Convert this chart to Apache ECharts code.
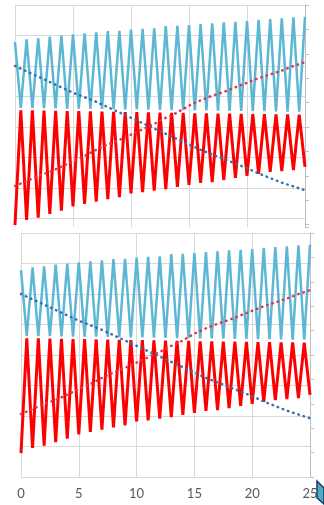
<!DOCTYPE html>
<html>
<head>
<meta charset="utf-8">
<script src="https://cdn.jsdelivr.net/npm/echarts@6/dist/echarts.min.js"></script>
<style>
  html, body { margin: 0; padding: 0; background: #fff; }
  #chart { width: 324px; height: 505px; }
</style>
</head>
<body>
<div id="chart"></div>
<script>
// values at x = 0, 1, ..., 25 (whole steps) and x = 0.5, 1.5, ..., 24.5 (half steps)
const xTicks = [0, 5, 10, 15, 20, 25];
const blueHigh = [135.7, 137.5, 138.2, 139.2, 139.9, 140.8, 141.4, 142.1, 142.9, 143.1, 143.8, 144.3, 144.7,
  146.2, 146.4, 146.9, 147.5, 148.0, 148.6, 149.0, 149.5, 150.2, 150.8, 151.3, 151.9, 152.3];
const blueLow = [92.5, 92.4, 92.4, 92.2, 92.1, 92.0, 92.0, 91.8, 91.7, 91.6, 91.5, 91.3, 91.2,
  91.1, 91.0, 90.9, 90.8, 90.7, 90.6, 90.5, 90.4, 90.3, 90.2, 90.1, 90.0];
const redHigh = [91.0, 90.9, 90.8, 90.6, 90.5, 90.4, 90.2, 90.1, 90.0, 89.8, 89.7, 89.6, 89.4,
  89.3, 89.2, 89.0, 88.9, 88.8, 88.7, 88.6, 88.5, 88.4, 88.3, 88.2, 88.1];
const redLow = [15.7, 19.0, 20.5, 22.9, 25.1, 27.9, 29.5, 31.0, 32.6, 33.9, 36.5, 37.2, 38.2,
  39.3, 40.7, 42.0, 43.3, 43.9, 45.2, 46.6, 47.9, 49.2, 50.5, 51.1, 51.8, 53.8];
const blueTrend = [120, 116.5, 113, 109.5, 106, 102.5, 99.5, 96.5, 93, 89.5, 86, 82.5, 79,
  75.5, 72, 68.5, 65, 62, 59, 56, 53, 49.5, 46.5, 43.5, 41, 38.5];
const redTrend = [41.3, 44.5, 48, 50.5, 54, 57.5, 61, 65, 68.5, 71.5, 75, 78.5, 82,
  86, 89.5, 94, 97.5, 100.5, 103, 106, 109, 112, 114.5, 117, 120, 122.5];

const BLUE = '#5bb7d3';
const RED = '#ff0000';
const BLUE_DOT = '#2f6fad';
const RED_DOT = '#e0354a';
const GRID = '#d9d9d9';

// join the whole-step and half-step values into one zigzag
function zigzag(whole, half) {
  const out = [];
  for (let i = 0; i < whole.length; i++) {
    out.push([i, whole[i]]);
    if (i < half.length) out.push([i + 0.5, half[i]]);
  }
  return out;
}
const trend = (arr) => arr.map((v, i) => [i, v]);

const zigBlue = zigzag(blueHigh, blueLow);
const zigRed = zigzag(redLow, redHigh);

const xAxisBase = {
  type: 'value',
  min: xTicks[0],
  max: xTicks[xTicks.length - 1],
  interval: xTicks[1] - xTicks[0],
  axisLine: { show: false },
  axisTick: { show: false },
  splitLine: { show: true, lineStyle: { color: GRID, width: 1 } },
};

const hidden = { axisLabel: { show: false }, axisLine: { show: false }, axisTick: { show: false } };

const rightAxis = (gridIndex, extra) => Object.assign({
  type: 'value',
  gridIndex,
  position: 'right',
  interval: 16,
  axisLabel: { show: false },
  axisLine: { show: true, lineStyle: { color: '#bfbfbf', width: 1 } },
  axisTick: { show: true, inside: false, length: 4, lineStyle: { color: '#bfbfbf' } },
  splitLine: { show: false },
}, extra);

function seriesFor(i, xi, yi) {
  return [
    { name: 'blue' + i, type: 'line', xAxisIndex: xi, yAxisIndex: yi, data: zigBlue, showSymbol: false,
      lineStyle: { color: BLUE, width: 2.5 }, animation: false, z: 2 },
    { name: 'red' + i, type: 'line', xAxisIndex: xi, yAxisIndex: yi, data: zigRed, showSymbol: false,
      lineStyle: { color: RED, width: 3 }, animation: false, z: 3 },
    { name: 'blueTrend' + i, type: 'line', xAxisIndex: xi, yAxisIndex: yi, data: trend(blueTrend), showSymbol: false,
      lineStyle: { color: BLUE_DOT, width: 2.5, type: [0.5, 5], cap: 'round' }, animation: false, z: 4 },
    { name: 'redTrend' + i, type: 'line', xAxisIndex: xi, yAxisIndex: yi, data: trend(redTrend), showSymbol: false,
      lineStyle: { color: RED_DOT, width: 2.5, type: [0.5, 5], cap: 'round' }, animation: false, z: 4 },
  ];
}

const chart = echarts.init(document.getElementById('chart'), null, { renderer: 'canvas' });
chart.setOption({
  backgroundColor: '#fff',
  animation: false,
  grid: [
    // upper copy, cut off near its bottom
    { left: 15, right: 19, top: 5, height: 222 },
    { left: 21, right: 14, top: 233, height: 244 },
  ],
  xAxis: [
    Object.assign({ gridIndex: 0, axisLabel: { show: false } }, xAxisBase),
    Object.assign({ gridIndex: 1 }, xAxisBase, {
      axisLabel: { show: true, color: '#595959', fontSize: 13, fontFamily: 'Lato', margin: 10 },
    }),
  ],
  yAxis: [
    // 0: data axis for the upper copy
    { type: 'value', gridIndex: 0, min: 14.4, max: 160, show: false },
    // 1: grid lines of the upper copy, counted from the top edge
    Object.assign({ type: 'value', gridIndex: 0, position: 'left', inverse: true, min: 0, max: 145.6, interval: 20,
      splitLine: { show: true, showMaxLine: false, lineStyle: { color: GRID, width: 1 } } }, hidden),
    // 2: right tick axis of the upper copy
    rightAxis(0, { inverse: true, min: 0, max: 145.6 }),
    // 3: data axis for the lower copy
    Object.assign({ type: 'value', gridIndex: 1, position: 'left', min: 0, max: 160, interval: 20,
      splitLine: { show: true, lineStyle: { color: GRID, width: 1 } } }, hidden),
    // 4: right tick axis of the lower copy
    rightAxis(1, { min: 0, max: 160 }),
  ],
  series: [].concat(seriesFor(0, 0, 0), seriesFor(1, 1, 3)),
  graphic: [
    {
      type: 'polygon',
      shape: { points: [[317, 481], [324, 488], [324, 504], [317, 498]] },
      style: { fill: '#4bacc6', stroke: '#1f3864', lineWidth: 1.5 },
      z: 10,
    },
  ],
});
</script>
</body>
</html>
